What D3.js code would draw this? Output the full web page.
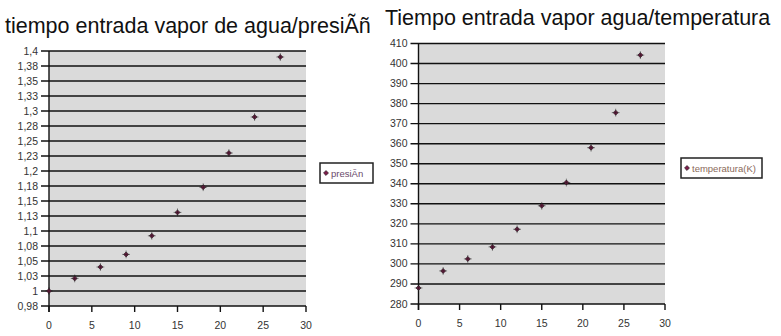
<!DOCTYPE html>
<html>
<head>
<meta charset="utf-8">
<script src="https://cdn.jsdelivr.net/npm/d3@7"></script>
<style>
  body { margin: 0; background: #fff; }
  svg { display: block; font-family: "Liberation Sans", Arial, sans-serif; }
</style>
</head>
<body>
<div class="charts"></div>
<script>
// Data
const tiempo = [0, 3, 6, 9, 12, 15, 18, 21, 24, 27];
const presion = [1.0, 1.021, 1.04, 1.061, 1.092, 1.131, 1.173, 1.23, 1.29, 1.39];
const temperatura = [288, 296.5, 302.5, 308.5, 317.3, 329, 340.6, 358, 375.5, 404.2];

const presionTicks = [0.975, 1, 1.025, 1.05, 1.075, 1.1, 1.125, 1.15, 1.175, 1.2,
    1.225, 1.25, 1.275, 1.3, 1.325, 1.35, 1.375, 1.4];
const temperaturaTicks = [280, 290, 300, 310, 320, 330, 340, 350, 360, 370, 380, 390, 400, 410];
const xTicks = [0, 5, 10, 15, 20, 25, 30];

const width = 781;
const height = 336;

let svg = d3.select(".charts").append("svg")
    .attr("width", width)
    .attr("height", height)
    .attr("viewBox", `0 0 ${width} ${height}`);

// Round half up to two decimals, with a comma
function comma(d) {
    return (Math.round(d * 100 + 1e-6) / 100).toString().replace(".", ",");
}

// Draw one scatter chart
function makeChart(opts) {
    const xScale = d3.scaleLinear().domain([0, 30]).range([opts.left, opts.right]);
    const yScale = d3.scaleLinear().domain(opts.yDomain).range([opts.bottom, opts.top]);

    const g = svg.append("g");

    // gray plot area
    g.append("rect")
        .attr("x", opts.left)
        .attr("y", opts.top)
        .attr("width", opts.right - opts.left)
        .attr("height", opts.bottom - opts.top)
        .attr("fill", "#dadada");

    // horizontal grid lines with left ticks
    g.selectAll(".grid").data(opts.yTicks).enter().append("line")
        .attr("x1", opts.left - 8)
        .attr("x2", opts.right)
        .attr("y1", d => yScale(d))
        .attr("y2", d => yScale(d))
        .attr("stroke", "#111")
        .attr("stroke-width", 1.4);

    // y axis
    g.append("line")
        .attr("x1", opts.left).attr("x2", opts.left)
        .attr("y1", opts.top).attr("y2", opts.bottom + 6)
        .attr("stroke", "#111")
        .attr("stroke-width", 1.4);

    g.selectAll(".ylab").data(opts.yTicks).enter().append("text")
        .attr("x", opts.left - 11)
        .attr("y", d => yScale(d) + 3.5)
        .attr("text-anchor", "end")
        .attr("font-size", 10.5)
        .attr("fill", "#333")
        .text(opts.yFormat);

    // x ticks
    g.selectAll(".xtick").data(xTicks).enter().append("line")
        .attr("x1", d => xScale(d)).attr("x2", d => xScale(d))
        .attr("y1", opts.bottom).attr("y2", opts.bottom + 6)
        .attr("stroke", "#111")
        .attr("stroke-width", 1.4);

    g.selectAll(".xlab").data(xTicks).enter().append("text")
        .attr("x", d => xScale(d))
        .attr("y", opts.bottom + 23)
        .attr("text-anchor", "middle")
        .attr("font-size", 10.5)
        .attr("fill", "#333")
        .text(d => d);

    // points: small diamond with a thin cross
    const pts = g.selectAll(".pt").data(opts.values).enter().append("g")
        .attr("transform", (d, i) => `translate(${xScale(tiempo[i])}, ${yScale(d)})`);
    pts.append("path")
        .attr("d", d3.symbol().type(d3.symbolDiamond2).size(16))
        .attr("fill", "#7d1c4a")
        .attr("stroke", "#1a1a1a")
        .attr("stroke-width", 0.6);
    pts.append("path")
        .attr("d", d3.symbol().type(d3.symbolPlus).size(22))
        .attr("fill", "none")
        .attr("stroke", "#1a1a1a")
        .attr("stroke-width", 0.5);

    // legend
    const lg = g.append("g").attr("transform", `translate(${opts.legend.x}, ${opts.legend.y})`);
    lg.append("rect")
        .attr("width", opts.legend.w)
        .attr("height", 20)
        .attr("fill", "#fff")
        .attr("stroke", "#222")
        .attr("stroke-width", 1.5);
    lg.append("path")
        .attr("d", d3.symbol().type(d3.symbolDiamond2).size(16))
        .attr("transform", "translate(6, 10)")
        .attr("fill", "#7d1c4a")
        .attr("stroke", "#1a1a1a")
        .attr("stroke-width", 0.6);
    lg.append("text")
        .attr("x", 11)
        .attr("y", 13.5)
        .attr("font-size", 9.5)
        .attr("fill", opts.legend.color)
        .text(opts.legend.label);

    // title
    svg.append("text")
        .attr("x", opts.titleX)
        .attr("y", opts.titleY)
        .attr("font-size", 21.5)
        .attr("fill", "#111")
        .text(opts.title);
}

makeChart({
    left: 49, right: 306, top: 51, bottom: 306,
    yDomain: [0.975, 1.4],
    yTicks: presionTicks,
    yFormat: comma,
    values: presion,
    legend: { x: 320, y: 163, w: 53, label: "presiÃn", color: "#6a4a6a" },
    titleX: 5, titleY: 33,
    title: "tiempo entrada vapor de agua/presiÃñ"
});

makeChart({
    left: 418.5, right: 665, top: 43.5, bottom: 304,
    yDomain: [280, 410],
    yTicks: temperaturaTicks,
    yFormat: d => d,
    values: temperatura,
    legend: { x: 681, y: 158, w: 81, label: "temperatura(K)", color: "#8a6a5a" },
    titleX: 385, titleY: 25,
    title: "Tiempo entrada vapor agua/temperatura"
});
</script>
</body>
</html>
